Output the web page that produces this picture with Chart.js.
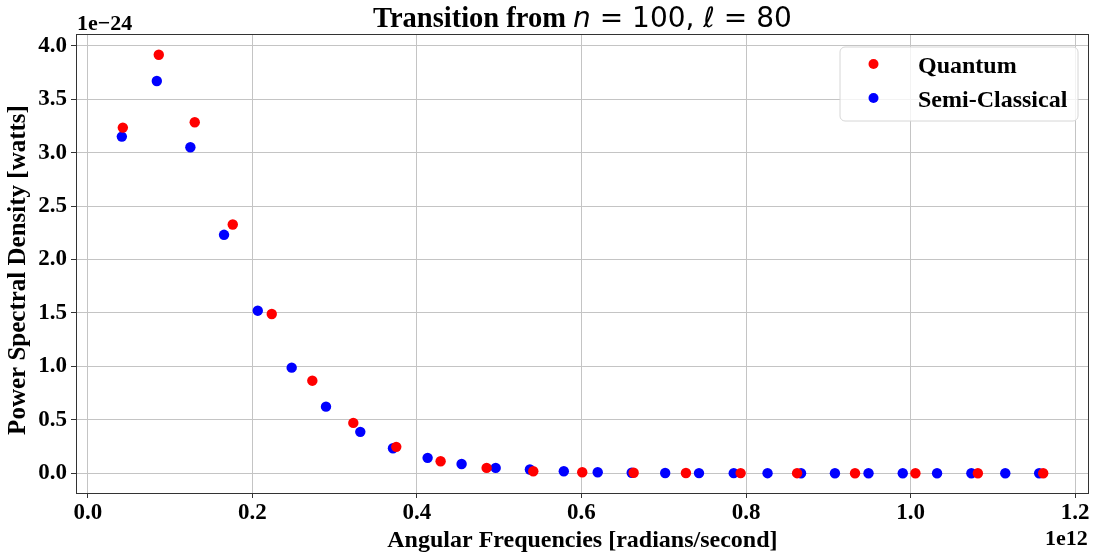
<!DOCTYPE html>
<html>
<head>
<meta charset="utf-8">
<script src="https://cdn.jsdelivr.net/npm/chart.js@4.4.1/dist/chart.umd.min.js"></script>
<style>
  html, body { margin: 0; padding: 0; background: #ffffff; }
  #wrap { width: 1094px; height: 556px; }
</style>
</head>
<body>
<div id="wrap"><canvas id="psd" width="1094" height="556"></canvas></div>
<script>
// Angular frequency in units of 1e12 rad/s, power in units of 1e-24 W
const quantumFreq = [0.0426, 0.0863, 0.1300, 0.1762, 0.2236, 0.2729, 0.3227, 0.3749, 0.4288, 0.4847,
                     0.5414, 0.6009, 0.6634, 0.7269, 0.7934, 0.8620, 0.9324, 1.0058, 1.0817, 1.1611];
const quantumPower = [3.234, 3.916, 3.284, 2.327, 1.490, 0.866, 0.471, 0.247, 0.112, 0.050,
                      0.019, 0.009, 0.004, 0.002, 0.001, 0.0005, 0.0002, 0.0001, 0.0, 0.0];

const semiFreq = [0.0414, 0.0839, 0.1247, 0.1656, 0.2066, 0.2478, 0.2895, 0.3312, 0.3709, 0.4130,
                  0.4543, 0.4957, 0.5373, 0.5785, 0.6197, 0.6610, 0.7017, 0.7428, 0.7850, 0.8261,
                  0.8668, 0.9080, 0.9488, 0.9904, 1.0321, 1.0738, 1.1150, 1.1562];
const semiPower = [3.150, 3.670, 3.050, 2.231, 1.521, 0.988, 0.623, 0.387, 0.234, 0.144,
                   0.086, 0.050, 0.035, 0.019, 0.009, 0.004, 0.002, 0.001, 0.0006, 0.0003,
                   0.0002, 0.0001, 0.0, 0.0, 0.0, 0.0, 0.0, 0.0];

const xTicks = [0.0, 0.2, 0.4, 0.6, 0.8, 1.0, 1.2];
const xTickLabels = ['0.0', '0.2', '0.4', '0.6', '0.8', '1.0', '1.2'];
const yTicks = [0.0, 0.5, 1.0, 1.5, 2.0, 2.5, 3.0, 3.5, 4.0];
const yTickLabels = ['0.0', '0.5', '1.0', '1.5', '2.0', '2.5', '3.0', '3.5', '4.0'];

const seriesNames = ['Quantum', 'Semi-Classical'];
const seriesColors = ['#ff0000', '#0000ff'];

const xExponent = '1e12';
const yExponent = '1e\u221224';
const xTitle = 'Angular Frequencies [radians/second]';
const yTitle = 'Power Spectral Density [watts]';
const titleParts = [
  { text: 'Transition from ', font: 'bold 28.5px "Liberation Serif"' },
  { text: 'n', font: 'italic 28px "DejaVu Sans"' },
  { text: ' = 100, ', font: '28px "DejaVu Sans"' },
  { text: '\u2113', font: 'italic 28px "DejaVu Sans"' },
  { text: ' = 80', font: '28px "DejaVu Sans"' }
];

const SERIF = '"Liberation Serif", "Times New Roman", serif';
const INK = '#000000';
const SPINE = '#333333';
const GRID = '#c4c4c4';

const toPoints = (xs, ys) => xs.map((x, i) => ({ x: x, y: ys[i] }));

// Frame, title, y-axis title, offset labels and the boxed legend inside the plot
const decorations = {
  id: 'decorations',
  afterDatasetsDraw(chart) {
    const { ctx, chartArea: a } = chart;
    ctx.save();
    ctx.strokeStyle = SPINE;
    ctx.lineWidth = 1;
    ctx.strokeRect(Math.round(a.left) + 0.5, Math.round(a.top) + 0.5,
                   Math.round(a.right - a.left) - 1, Math.round(a.bottom - a.top));
    ctx.restore();
  },
  afterDraw(chart) {
    const { ctx, chartArea: a } = chart;
    ctx.save();

    // Title, centred over the plot area
    let total = 0;
    titleParts.forEach(p => { ctx.font = p.font; p.w = ctx.measureText(p.text).width; total += p.w; });
    let tx = (a.left + a.right) / 2 - total / 2;
    ctx.fillStyle = INK;
    ctx.textBaseline = 'alphabetic';
    ctx.textAlign = 'left';
    titleParts.forEach(p => { ctx.font = p.font; ctx.fillText(p.text, tx, 27); tx += p.w; });

    // Vertical axis title
    ctx.save();
    ctx.translate(24.5, 270);
    ctx.rotate(-Math.PI / 2);
    ctx.font = 'bold 25px ' + SERIF;
    ctx.textAlign = 'center';
    ctx.fillText(yTitle, 0, 0);
    ctx.restore();

    // Offset (exponent) labels
    ctx.font = 'bold 22px ' + SERIF;
    ctx.textAlign = 'left';
    ctx.fillText(yExponent, a.left + 1, 30);
    ctx.textAlign = 'right';
    ctx.fillText(xExponent, a.right - 1, 545);

    // Legend box
    const bx = 840, by = 47, bw = 238, bh = 74, r = 5;
    ctx.beginPath();
    ctx.moveTo(bx + r, by);
    ctx.arcTo(bx + bw, by, bx + bw, by + bh, r);
    ctx.arcTo(bx + bw, by + bh, bx, by + bh, r);
    ctx.arcTo(bx, by + bh, bx, by, r);
    ctx.arcTo(bx, by, bx + bw, by, r);
    ctx.closePath();
    ctx.fillStyle = 'rgba(255,255,255,0.8)';
    ctx.fill();
    ctx.strokeStyle = '#d6d6d6';
    ctx.lineWidth = 1;
    ctx.stroke();

    const rows = [64, 98];
    ctx.font = 'bold 24px ' + SERIF;
    ctx.textAlign = 'left';
    ctx.textBaseline = 'alphabetic';
    seriesNames.forEach((name, i) => {
      ctx.beginPath();
      ctx.arc(873.5, rows[i], 5, 0, Math.PI * 2);
      ctx.fillStyle = seriesColors[i];
      ctx.fill();
      ctx.fillStyle = INK;
      ctx.fillText(name, 918, rows[i] + 9);
    });
    ctx.restore();
  }
};

new Chart(document.getElementById('psd'), {
  type: 'scatter',
  data: {
    datasets: [
      { label: seriesNames[0], data: toPoints(quantumFreq, quantumPower),
        backgroundColor: seriesColors[0], borderWidth: 0, pointRadius: 5.2, pointHoverRadius: 5.2 },
      { label: seriesNames[1], data: toPoints(semiFreq, semiPower),
        backgroundColor: seriesColors[1], borderWidth: 0, pointRadius: 5.2, pointHoverRadius: 5.2 }
    ]
  },
  options: {
    responsive: false,
    animation: false,
    devicePixelRatio: 1,
    layout: { padding: { top: 34, right: 5, left: 0, bottom: 0 } },
    plugins: { legend: { display: false }, tooltip: { enabled: false }, title: { display: false } },
    scales: {
      x: {
        type: 'linear',
        min: -0.0143,
        max: 1.2165,
        afterBuildTicks: s => { s.ticks = xTicks.map(v => ({ value: v })); },
        afterFit: s => { s.height = 63; },
        ticks: {
          autoSkip: false, maxRotation: 0, padding: 1, color: INK,
          font: { family: SERIF, size: 23, weight: 'bold' },
          callback: v => xTickLabels[xTicks.indexOf(v)]
        },
        grid: { color: GRID, lineWidth: 1, tickColor: SPINE, tickLength: 5 },
        border: { color: SPINE, width: 1 },
        title: { display: true, text: xTitle, color: INK,
                 font: { family: SERIF, size: 24, weight: 'bold' }, padding: { top: 0, bottom: 1 } }
      },
      y: {
        type: 'linear',
        min: -0.185,
        max: 4.11,
        afterBuildTicks: s => { s.ticks = yTicks.map(v => ({ value: v })); },
        afterFit: s => { s.width = 76; },
        ticks: {
          autoSkip: false, padding: 4, color: INK,
          font: { family: SERIF, size: 23, weight: 'bold' },
          callback: v => yTickLabels[yTicks.indexOf(v)]
        },
        grid: { color: GRID, lineWidth: 1, tickColor: SPINE, tickLength: 5 },
        border: { color: SPINE, width: 1 }
      }
    }
  },
  plugins: [decorations]
});
</script>
</body>
</html>
